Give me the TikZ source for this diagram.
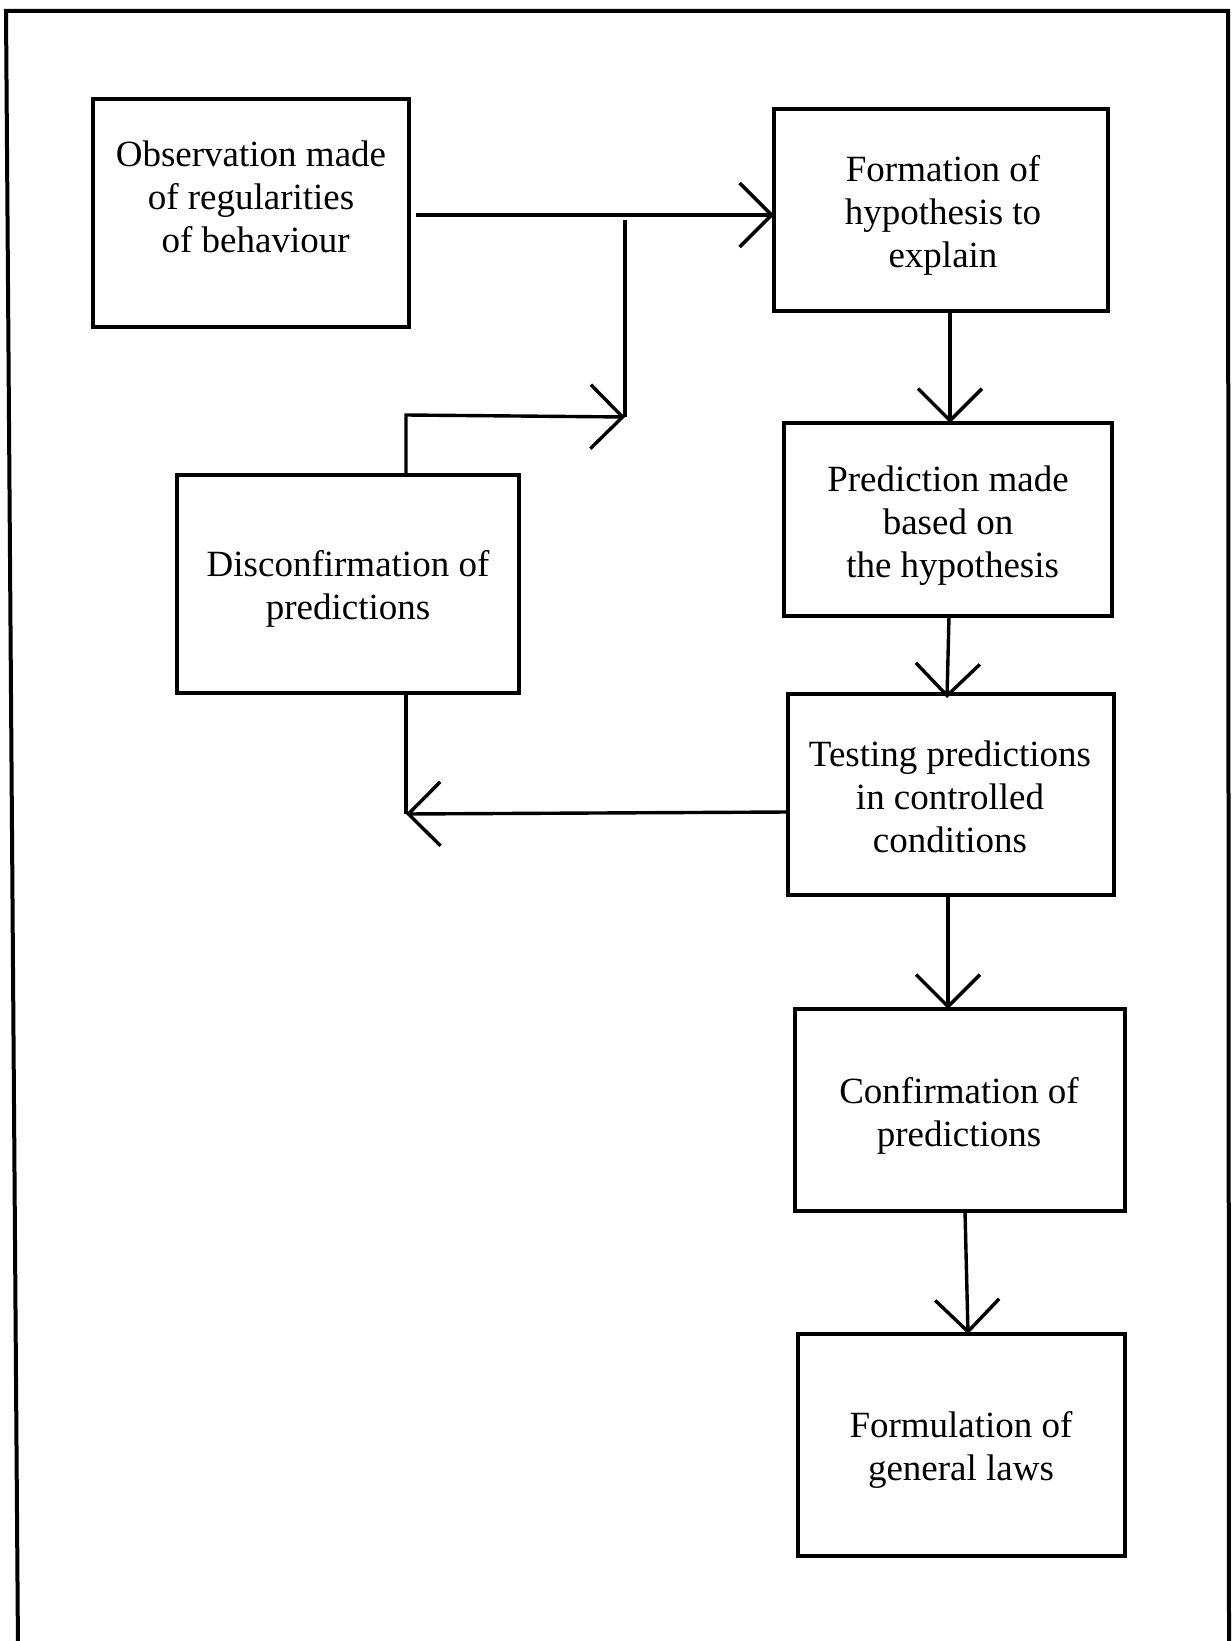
\documentclass[tikz,border=0pt]{standalone}
\usepackage{fontspec}
\setmainfont{Liberation Serif}
\usetikzlibrary{arrows.meta}
\begin{document}
\begin{tikzpicture}[x=0.5pt,y=-0.5pt,
  box/.style={draw, line width=1.7pt, inner sep=0pt, outer sep=0pt},
  txt/.style={align=center, inner sep=0pt, font=\fontsize{18.5}{21.5}\selectfont},
  conn/.style={line width=1.7pt},
  arr/.style={line width=1.7pt, -{Straight Barb[length=16pt,width=32pt]}}]
\useasboundingbox[fill=white] (0,0) rectangle (1231,1641);
% frame
\draw[line width=2pt] (18,1650) -- (6,11) -- (1228,11) -- (1229,1650);
% boxes
\node[box, minimum width=158pt, minimum height=114pt] (obs) at (251,213) {};
\node[box, minimum width=167pt, minimum height=101pt] (form) at (941,210) {};
\node[box, minimum width=164pt, minimum height=96.5pt] (pred) at (948,519.5) {};
\node[box, minimum width=163pt, minimum height=100.5pt] (test) at (951,794.5) {};
\node[box, minimum width=165pt, minimum height=101pt] (conf) at (960,1110) {};
\node[box, minimum width=163.5pt, minimum height=111pt] (law) at (961.5,1445) {};
\node[box, minimum width=171pt, minimum height=109pt] (disc) at (348,584) {};
% texts
\node[txt] (tobs) at (251,197) {Observation made\\of regularities\\\hspace*{0.25em}of behaviour};
\node[txt] (tform) at (943,215) {Formation of\\hypothesis to\\explain};
\node[txt] (tpred) at (948,525.5) {Prediction made\\based on\\\hspace*{0.25em}the hypothesis};
\node[txt] (tdisc) at (348,589) {Disconfirmation of\\predictions};
\node[txt] (ttest) at (950,797) {Testing predictions\\in controlled\\conditions};
\node[txt] (tconf) at (959,1116) {Confirmation of\\predictions};
\node[txt] (tlaw) at (961,1450) {Formulation of\\general laws};
% helper points
\coordinate (join) at (625,417);
\coordinate (jtop) at (625,220);
\coordinate (corner) at (406,415);
\coordinate (merge) at (406,814);
% connectors
\draw[arr] ([xshift=3.5pt]obs.east |- 0,215) -- (form.west |- 0,215);
\draw[conn] (jtop) -- (join);
\draw[arr] (disc.north -| corner) -- (corner) -- (join);
\draw[arr] (form.south -| 950,0) -- (pred.north -| 950,0);
\draw[arr] (949,616) -- (947,698);
\draw[conn] (disc.south -| merge) -- (merge);
\draw[arr] (test.west |- 0,812) -- (merge);
\draw[arr] (test.south -| 948,0) -- (conf.north -| 948,0);
\draw[arr] (965,1211) -- (968,1334);
\end{tikzpicture}
\end{document}
